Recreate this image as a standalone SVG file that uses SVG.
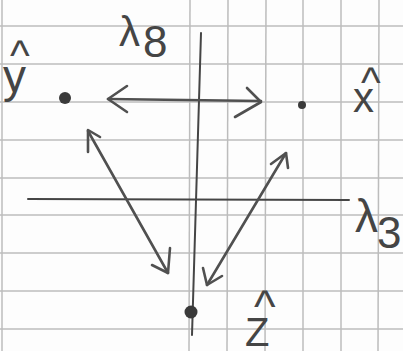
<svg xmlns="http://www.w3.org/2000/svg" width="403" height="351" viewBox="0 0 403 351">
<style>
.grid line{stroke:#bcbcbc;stroke-width:1.5}
.ink{fill:none;stroke:#505050;stroke-width:2.6;stroke-linecap:round;stroke-linejoin:round}
.axis{fill:none;stroke:#454545;stroke-width:2;stroke-linecap:round}
.dot{fill:#3a3a3a}
.lbl{font-family:"Liberation Sans",Arial,sans-serif;fill:#454545}
</style>
<rect width="403" height="351" fill="#fdfdfd"/>
<g class="grid">
<line x1="0" y1="26" x2="403" y2="26"/>
<line x1="0" y1="64" x2="403" y2="64"/>
<line x1="0" y1="102" x2="403" y2="102"/>
<line x1="0" y1="140" x2="403" y2="140"/>
<line x1="0" y1="178" x2="403" y2="178"/>
<line x1="0" y1="215" x2="403" y2="215"/>
<line x1="0" y1="253" x2="403" y2="253"/>
<line x1="0" y1="291" x2="403" y2="291"/>
<line x1="0" y1="329" x2="403" y2="329"/>
<line x1="2" y1="0" x2="2" y2="351"/>
<line x1="190" y1="0" x2="189" y2="351"/>
<line x1="228" y1="0" x2="227" y2="351"/>
<line x1="266" y1="0" x2="265" y2="351"/>
<line x1="303" y1="0" x2="303" y2="351"/>
<line x1="341" y1="0" x2="341" y2="351"/>
<line x1="379" y1="0" x2="378" y2="351"/>
</g>
<g id="lambda8">
<path class="axis" d="M201 33 L192 335"/>
<text class="lbl" font-size="42" x="119" y="46">λ<tspan font-size="44" x="143" y="57">8</tspan></text>
</g>
<g id="lambda3">
<path class="axis" d="M28 199 L349 200"/>
<text class="lbl" font-size="46" x="355" y="232">λ<tspan font-size="44" x="377" y="248">3</tspan></text>
</g>
<g id="node-y">
<circle class="dot" cx="65" cy="98" r="6"/>
<text class="lbl" font-size="42" x="10" y="70">^<tspan font-size="46" x="3" y="92">y</tspan></text>
</g>
<g id="node-x">
<circle class="dot" cx="302" cy="105" r="4"/>
<text class="lbl" font-size="42" x="361" y="97">^<tspan font-size="42" x="353" y="112">x</tspan></text>
</g>
<g id="node-z">
<circle class="dot" cx="191" cy="312" r="6.5"/>
<text class="lbl" font-size="46" x="254" y="322">^<tspan font-size="40" x="245" y="346">Z</tspan></text>
</g>
<g id="connectors">
<path class="ink" d="M108 99 L261 101"/>
<path class="ink" d="M127 86 L108 99 L127 112"/>
<path class="ink" d="M247 88 L261 102 L235 117"/>
<path class="ink" d="M88 131 L168 273"/>
<path class="ink" d="M88 152 L88 130 L100 137"/>
<path class="ink" d="M152 265 L168 273 L170 248"/>
<path class="ink" d="M286 153 L207 285"/>
<path class="ink" d="M271 164 L286 153 L288 168"/>
<path class="ink" d="M203 268 L207 285 L222 276"/>
</g>
</svg>
